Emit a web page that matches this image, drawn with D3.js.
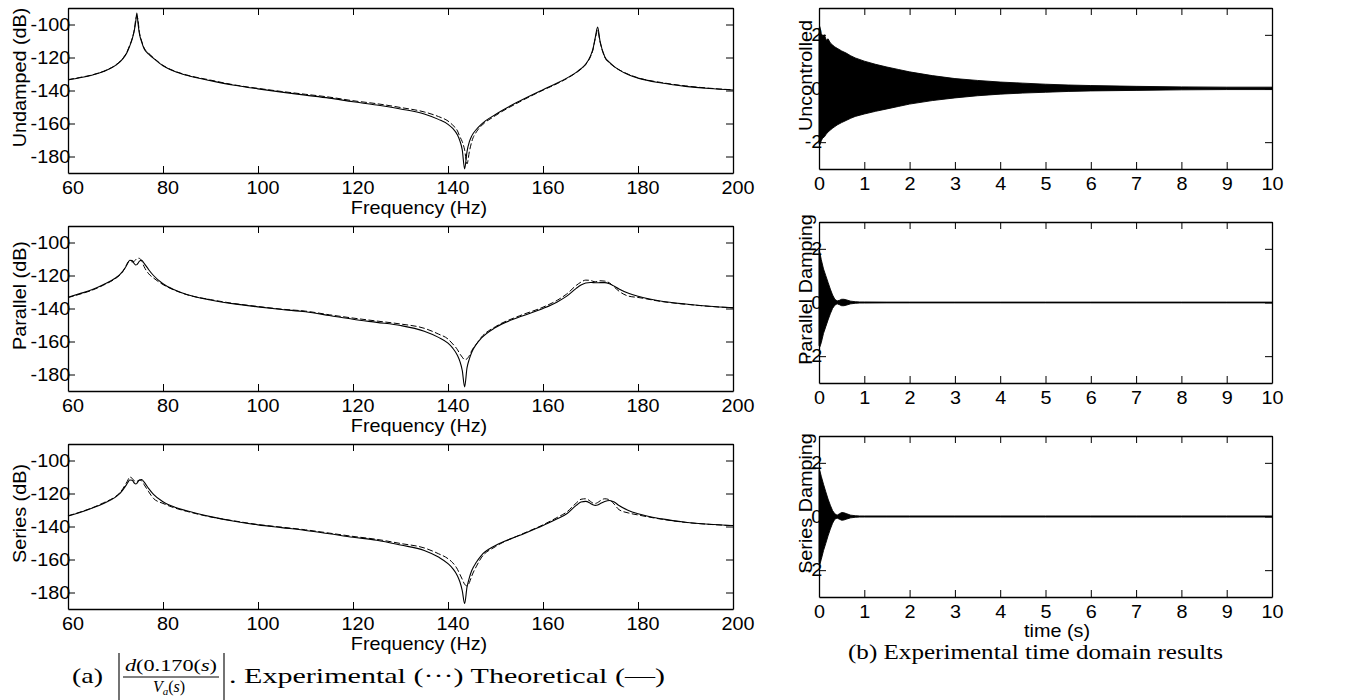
<!DOCTYPE html>
<html>
<head>
<meta charset="utf-8">
<script src="https://cdn.jsdelivr.net/npm/d3@7"></script>
<style>
  body { margin: 0; background: #fff; }
  svg { display: block; }
  .tick text, .lab { font-family: "Liberation Sans", Arial, sans-serif; font-size: 18px; fill: #000; }
  .cap { font-family: "Liberation Serif", "Times New Roman", serif; fill: #000; }
</style>
</head>
<body>
<div id="chart"></div>
<script>
// --------------------------------------
//  Data
// --------------------------------------

const freqHz = [60, 62.5, 65, 67.5, 70, 71, 72, 72.5, 73, 73.5, 74, 74.25, 74.5, 74.75, 75,
  75.5, 76, 77, 78, 80, 82.5, 85, 90, 95, 100, 105, 110, 115, 120, 125, 130, 135, 138, 140, 141,
  142, 142.5, 143, 143.5, 144, 144.5, 145, 146, 147, 150, 155, 160, 163, 165, 167, 168, 169, 170,
  170.5, 171, 171.5, 172, 173, 174, 175, 176, 178, 180, 185, 190, 195, 200];

const undampedTheory = [-133.6, -132.3, -130.8, -128.5, -124.8,
  -122.5, -119.0, -116.5, -113.0, -109.0,
  -103.0, -98.5, -93.0, -99.5, -105.0,
  -110.5, -114.5, -118.0, -120.5, -125.0,
  -128.5, -130.8, -134.0, -136.8, -139.0,
  -141.0, -142.8, -144.6, -146.8, -148.8,
  -151.2, -154.2, -157.5, -160.5, -163.0,
  -167.0, -170.5, -176.0, -187.5, -177.0,
  -171.0, -167.5, -163.5, -160.5, -154.5,
  -146.5, -139.5, -135.5, -132.5, -129.0,
  -126.8, -124.0, -119.0, -115.0, -108.0,
  -101.6, -110.0, -119.5, -123.0, -125.5,
  -127.5, -130.5, -132.5, -135.5, -137.5,
  -138.8, -139.7];

const undampedExp = [-133.4, -132.1, -130.6, -128.3, -124.6,
  -122.2, -118.7, -116.0, -112.5, -108.5,
  -102.5, -97.0, -95.0, -97.5, -104.0,
  -110.0, -114.0, -117.5, -120.2, -124.8,
  -128.3, -130.6, -133.7, -136.6, -138.7,
  -140.6, -142.3, -144.0, -146.2, -148.0,
  -150.3, -153.0, -155.8, -158.5, -161.0,
  -164.5, -168.0, -171.0, -176.0, -184.5,
  -177.0, -171.0, -165.0, -161.5, -155.2,
  -147.0, -139.8, -135.8, -132.8, -129.2,
  -127.0, -124.2, -119.5, -115.5, -108.5,
  -103.5, -110.5, -119.8, -123.2, -125.6,
  -127.4, -130.2, -132.3, -135.2, -137.2,
  -138.6, -139.6];

const parallelTheory = [-133.2, -131.0, -128.7, -125.5, -121.5,
  -119.2, -115.5, -113.0, -110.8, -111.0,
  -113.0, -113.6, -113.4, -112.5, -111.5,
  -110.8, -112.5, -116.5, -120.0, -125.0,
  -128.8, -131.5, -134.8, -137.2, -139.0,
  -140.6, -142.0, -144.2, -146.5, -148.4,
  -150.3, -153.8, -157.5, -161.0, -164.0,
  -168.5, -172.0, -177.5, -187.5, -176.0,
  -170.5, -166.5, -161.5, -158.0, -151.5,
  -145.2, -140.0, -136.0, -132.5, -127.8,
  -125.8, -124.5, -124.2, -124.3, -124.4,
  -124.4, -124.3, -124.3, -125.0, -126.5,
  -128.2, -130.8, -132.6, -135.6, -137.3,
  -138.6, -139.5];

const parallelExp = [-133.4, -131.3, -129.0, -125.8, -121.8,
  -119.5, -115.5, -112.5, -111.0, -111.8,
  -111.2, -110.5, -109.8, -109.5, -109.6,
  -111.0, -114.5, -119.0, -121.5, -125.5,
  -129.0, -131.6, -134.6, -137.0, -138.8,
  -140.4, -141.6, -143.8, -145.8, -147.6,
  -149.4, -152.0, -155.5, -158.5, -161.5,
  -165.0, -167.5, -169.5, -171.0, -170.5,
  -168.5, -165.5, -161.5, -157.5, -151.0,
  -144.5, -139.2, -135.0, -131.2, -126.0,
  -124.0, -122.8, -123.0, -123.5, -123.8,
  -123.6, -123.2, -123.4, -124.5, -127.0,
  -129.5, -132.5, -133.3, -135.8, -137.4,
  -138.7, -139.6];

const seriesTheory = [-133.7, -131.5, -129.0, -126.0, -122.2,
  -119.8, -116.0, -113.8, -111.8, -112.0,
  -113.8, -114.2, -113.8, -112.8, -111.8,
  -111.5, -113.0, -117.0, -120.5, -125.0,
  -128.3, -130.5, -134.0, -136.8, -139.0,
  -140.7, -142.4, -144.4, -146.5, -148.3,
  -151.2, -154.5, -158.5, -162.5, -165.5,
  -170.0, -173.5, -178.8, -186.7, -176.8,
  -171.0, -166.7, -161.5, -157.6, -151.5,
  -145.5, -139.4, -135.3, -132.3, -127.2,
  -125.2, -124.8, -126.0, -126.8, -127.2,
  -127.0, -126.2, -124.8, -124.2, -125.2,
  -127.3, -130.3, -132.3, -135.4, -137.4,
  -138.6, -139.4];

const seriesExp = [-133.5, -131.3, -128.8, -125.6, -121.8,
  -119.3, -115.0, -112.5, -110.0, -110.8,
  -112.5, -113.0, -112.8, -112.2, -112.0,
  -112.3, -114.5, -119.0, -123.0, -126.0,
  -128.8, -130.8, -134.2, -136.6, -138.8,
  -140.4, -142.0, -144.0, -146.0, -147.8,
  -150.3, -153.0, -156.5, -159.5, -162.0,
  -166.0, -169.0, -172.0, -175.0, -176.0,
  -174.0, -170.0, -164.0, -159.0, -152.2,
  -145.3, -139.0, -134.5, -131.2, -125.8,
  -123.5, -123.2, -124.8, -125.8, -126.0,
  -125.5, -124.5, -123.2, -123.8, -126.5,
  -129.8, -131.8, -133.0, -135.6, -137.5,
  -138.7, -139.5];

// time-domain envelopes (upper / lower edge of the oscillation)
const timeUncontrolled = [0, 0.02, 0.05, 0.08, 0.12, 0.16, 0.2, 0.25, 0.3, 0.35, 0.4, 0.5, 0.6,
  0.7, 0.8, 1.0, 1.25, 1.5, 1.75, 2, 2.5, 3, 3.5, 4, 4.5, 5, 5.5, 6, 7, 8, 9, 10];
const uncontrolledUpper = [2.25, 2.3, 2.05, 1.95, 2.0, 1.8, 1.85, 1.7, 1.62, 1.55, 1.5, 1.4, 1.32,
  1.22, 1.14, 1.02, 0.9, 0.8, 0.71, 0.62, 0.48, 0.37, 0.3, 0.24, 0.2, 0.16, 0.13, 0.11, 0.08, 0.06, 0.05, 0.05];
const uncontrolledLower = [-2.05, -2.1, -1.95, -1.85, -1.8, -1.7, -1.62, -1.55, -1.48, -1.42, -1.36, -1.27, -1.19,
  -1.11, -1.04, -0.95, -0.85, -0.76, -0.67, -0.58, -0.45, -0.35, -0.27, -0.21, -0.17, -0.14, -0.11, -0.09, -0.07, -0.05, -0.04, -0.04];

const timeDamped = [0, 0.02, 0.05, 0.1, 0.15, 0.2, 0.25, 0.3, 0.35, 0.4, 0.45, 0.5, 0.55, 0.6,
  0.7, 0.8, 0.9, 1.0, 1.5, 2, 3, 4, 5, 6, 7, 8, 9, 10];
const parallelUpper = [1.95, 1.85, 1.6, 1.25, 1.0, 0.75, 0.5, 0.28, 0.12, 0.06, 0.08, 0.12, 0.12, 0.1,
  0.05, 0.03, 0.02, 0.02, 0.015, 0.015, 0.015, 0.015, 0.015, 0.015, 0.015, 0.015, 0.015, 0.015];
const parallelLower = [-1.6, -1.65, -1.5, -1.15, -0.9, -0.65, -0.42, -0.22, -0.1, -0.05, -0.08, -0.12, -0.12, -0.1,
  -0.05, -0.03, -0.02, -0.02, -0.015, -0.015, -0.015, -0.015, -0.015, -0.015, -0.015, -0.015, -0.015, -0.015];
const seriesUpper = [1.75, 1.7, 1.5, 1.2, 0.92, 0.65, 0.42, 0.22, 0.1, 0.05, 0.1, 0.15, 0.14, 0.11,
  0.05, 0.03, 0.02, 0.02, 0.02, 0.02, 0.02, 0.02, 0.02, 0.02, 0.02, 0.02, 0.02, 0.02];
const seriesLower = [-1.7, -1.78, -1.6, -1.27, -1.0, -0.72, -0.47, -0.25, -0.1, -0.06, -0.1, -0.14, -0.13, -0.1,
  -0.05, -0.03, -0.02, -0.02, -0.02, -0.02, -0.02, -0.02, -0.02, -0.02, -0.02, -0.02, -0.02, -0.02];

const freqTicks = [60, 80, 100, 120, 140, 160, 180, 200];
const dbTicks = [-180, -160, -140, -120, -100];
const timeTicks = [0, 1, 2, 3, 4, 5, 6, 7, 8, 9, 10];
const ampTicks = [-2, 0, 2];

// --------------------------------------
//  Canvas
// --------------------------------------

const width = 1372;
const height = 700;

const svg = d3.select("#chart")
  .append("svg")
    .attr("width", width)
    .attr("height", height)
    .attr("viewBox", `0 0 ${width} ${height}`);

const stretch = "scale(1.1,1)";

// box with inward ticks on all four sides
function drawFrame(g, x, y, xTicks, yTicks, w, h, xDx, yPad) {
  const bottom = g.append("g")
    .attr("transform", `translate(0,${h})`)
    .call(d3.axisBottom(x).tickValues(xTicks).tickSize(-7).tickSizeOuter(0)
      .tickPadding(8).tickFormat(d => String(d)));
  bottom.selectAll(".tick text").attr("dx", xDx).attr("transform", stretch);

  g.append("g")
    .call(d3.axisTop(x).tickValues(xTicks).tickSize(-7).tickSizeOuter(0).tickFormat(""));

  const left = g.append("g")
    .call(d3.axisLeft(y).tickValues(yTicks).tickSize(-7).tickSizeOuter(0)
      .tickPadding(yPad).tickFormat(d => String(d)));
  left.selectAll(".tick text").attr("transform", stretch);

  g.append("g")
    .attr("transform", `translate(${w},0)`)
    .call(d3.axisRight(y).tickValues(yTicks).tickSize(-7).tickSizeOuter(0).tickFormat(""));

  g.selectAll(".domain").attr("stroke", "#000").attr("stroke-width", 1.3);
  g.selectAll(".tick line").attr("stroke", "#000").attr("stroke-width", 1);
}

// --------------------------------------
//  (a) frequency responses
// --------------------------------------

const fx0 = 68, fw = 733 - 68, fh = 165;
const freqPanels = [
  {top: 8,   label: "Undamped (dB)", theory: undampedTheory, exp: undampedExp},
  {top: 226, label: "Parallel (dB)", theory: parallelTheory, exp: parallelExp},
  {top: 444, label: "Series (dB)",   theory: seriesTheory,   exp: seriesExp}
];

const xFreq = d3.scaleLinear().domain([60, 200]).range([0, fw]);
const yDb = d3.scaleLinear().domain([-190, -90]).range([fh, 0]);

const dbLine = d3.line()
  .x((d, i) => xFreq(freqHz[i]))
  .y(d => yDb(d))
  .curve(d3.curveMonotoneX);

freqPanels.forEach(p => {
  const g = svg.append("g").attr("transform", `translate(${fx0},${p.top})`);

  g.append("path")
    .attr("d", dbLine(p.exp))
    .attr("fill", "none")
    .attr("stroke", "#000")
    .attr("stroke-width", 1)
    .attr("stroke-dasharray", "6,2.5");

  g.append("path")
    .attr("d", dbLine(p.theory))
    .attr("fill", "none")
    .attr("stroke", "#000")
    .attr("stroke-width", 1.1);

  drawFrame(g, xFreq, yDb, freqTicks, dbTicks, fw, fh, 4, -2);

  g.append("text")
    .attr("class", "lab")
    .attr("text-anchor", "middle")
    .attr("transform", `translate(${26 - fx0},${fh / 2 - 13}) rotate(-90) ${stretch}`)
    .text(p.label);

  g.append("text")
    .attr("class", "lab")
    .attr("text-anchor", "middle")
    .attr("transform", `translate(${419 - fx0},${fh + 41}) ${stretch}`)
    .text("Frequency (Hz)");
});

// --------------------------------------
//  (b) time domain
// --------------------------------------

const tx0 = 819, tw = 1272 - 819, th = 161;
const timePanels = [
  {top: 8,   label: "Uncontrolled",     t: timeUncontrolled, up: uncontrolledUpper, lo: uncontrolledLower},
  {top: 222, label: "Parallel Damping", t: timeDamped,       up: parallelUpper,     lo: parallelLower},
  {top: 436, label: "Series Damping",   t: timeDamped,       up: seriesUpper,       lo: seriesLower}
];

const xTime = d3.scaleLinear().domain([0, 10]).range([0, tw]);
const yAmp = d3.scaleLinear().domain([-3, 3]).range([th, 0]);

timePanels.forEach((p, k) => {
  const g = svg.append("g").attr("transform", `translate(${tx0},${p.top})`);

  const env = d3.area()
    .x((d, i) => xTime(p.t[i]))
    .y0((d, i) => yAmp(p.lo[i]))
    .y1(d => yAmp(d))
    .curve(d3.curveLinear);

  g.append("path")
    .attr("d", env(p.up))
    .attr("fill", "#000")
    .attr("stroke", "#000")
    .attr("stroke-width", 0.9);

  drawFrame(g, xTime, yAmp, timeTicks, ampTicks, tw, th, 0, -3);

  g.append("text")
    .attr("class", "lab")
    .attr("text-anchor", "middle")
    .attr("transform", `translate(${812 - tx0},${th / 2 - 13}) rotate(-90) ${stretch}`)
    .text(p.label);

  if (k === 2) {
    g.append("text")
      .attr("class", "lab")
      .attr("text-anchor", "middle")
      .attr("transform", `translate(${1057 - tx0},${th + 40}) ${stretch}`)
      .text("time (s)");
  }
});

// --------------------------------------
//  Captions
// --------------------------------------

const capA = svg.append("g").attr("class", "cap");

capA.append("text")
  .attr("x", 72).attr("y", 683)
  .attr("font-size", 22)
  .attr("textLength", 31).attr("lengthAdjust", "spacingAndGlyphs")
  .text("(a)");

[119, 224].forEach(bx => {
  capA.append("line")
    .attr("x1", bx).attr("x2", bx)
    .attr("y1", 653).attr("y2", 700)
    .attr("stroke", "#000").attr("stroke-width", 1.1);
});

capA.append("line")
  .attr("x1", 123).attr("x2", 219)
  .attr("y1", 677).attr("y2", 677)
  .attr("stroke", "#000").attr("stroke-width", 1);

const num = capA.append("text")
  .attr("x", 171).attr("y", 671)
  .attr("font-size", 16)
  .attr("text-anchor", "middle")
  .attr("textLength", 92).attr("lengthAdjust", "spacingAndGlyphs");
num.append("tspan").attr("font-style", "italic").text("d");
num.append("tspan").text("(0.170(");
num.append("tspan").attr("font-style", "italic").text("s");
num.append("tspan").text(")");

const den = capA.append("text")
  .attr("x", 169).attr("y", 692)
  .attr("font-size", 16)
  .attr("text-anchor", "middle");
den.append("tspan").attr("font-style", "italic").text("V");
den.append("tspan").attr("font-style", "italic").attr("font-size", 11).attr("dy", 3).text("a");
den.append("tspan").attr("dy", -3).text("(");
den.append("tspan").attr("font-style", "italic").text("s");
den.append("tspan").text(")");

capA.append("text")
  .attr("x", 229).attr("y", 683)
  .attr("font-size", 22)
  .attr("textLength", 436).attr("lengthAdjust", "spacingAndGlyphs")
  .text(". Experimental (···) Theoretical (—)");

svg.append("text")
  .attr("class", "cap")
  .attr("x", 848).attr("y", 659)
  .attr("font-size", 22)
  .attr("textLength", 375).attr("lengthAdjust", "spacingAndGlyphs")
  .text("(b) Experimental time domain results");
</script>
</body>
</html>
